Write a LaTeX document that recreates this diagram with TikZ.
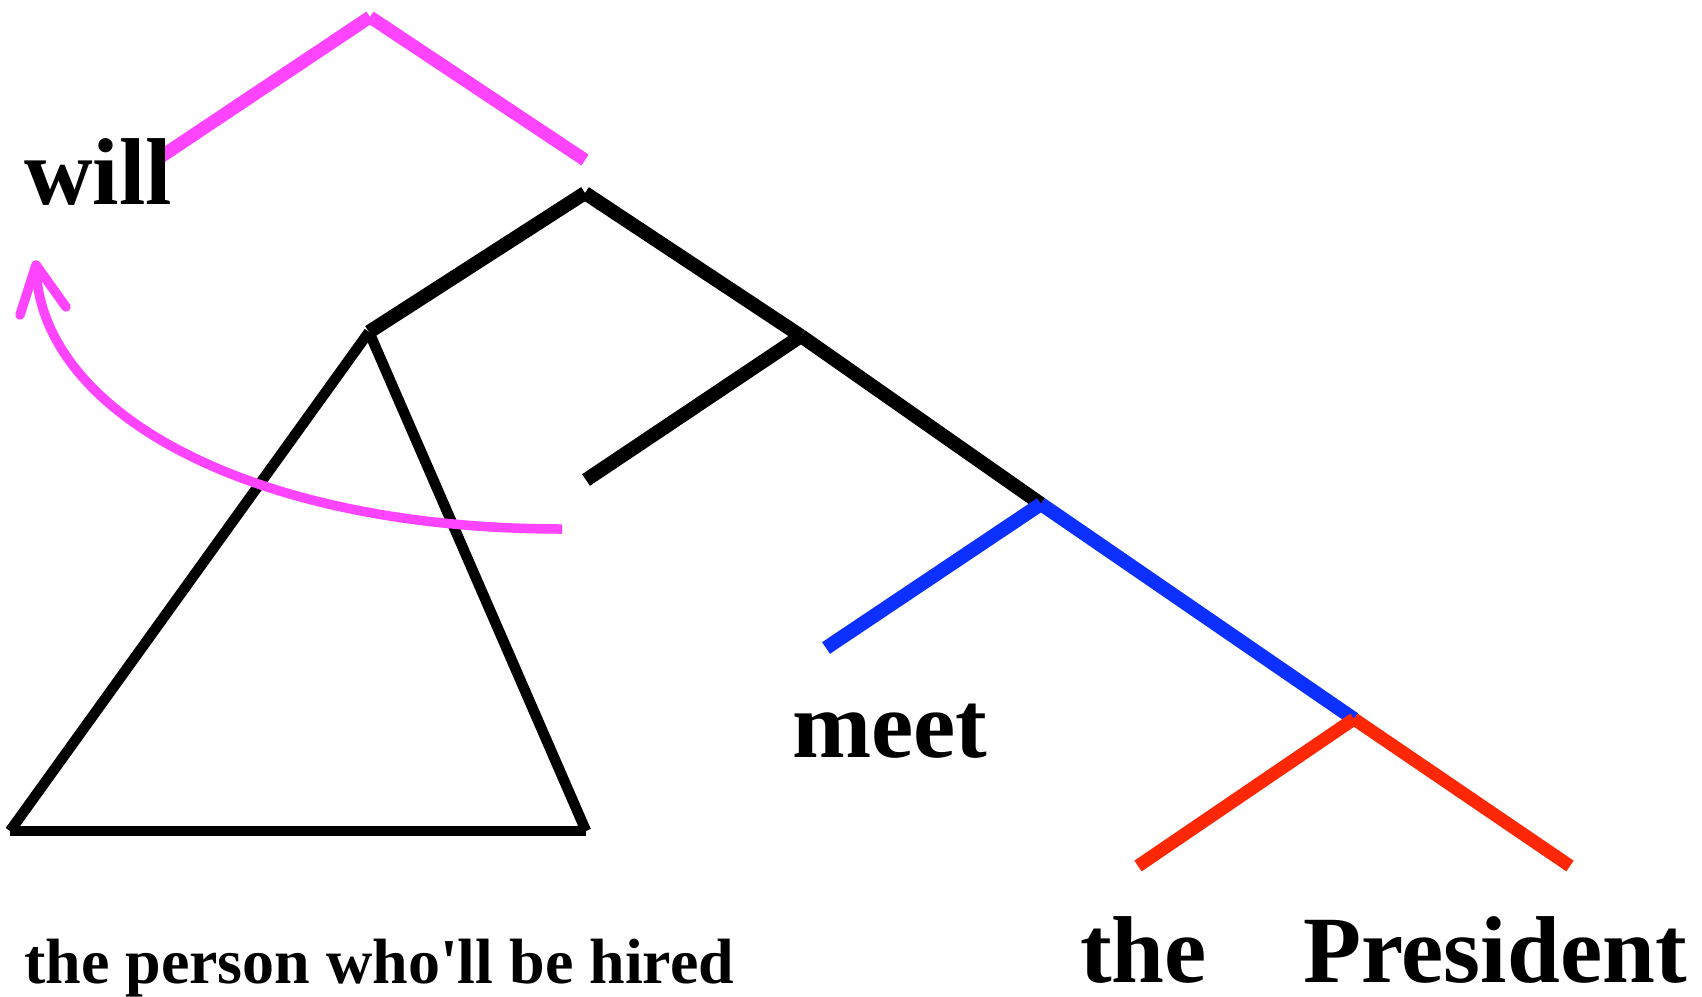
\documentclass[tikz,border=0pt]{standalone}
\usepackage{fontspec}
\newfontfamily\treefont{Liberation Serif}
\definecolor{mag}{RGB}{255,68,255}
\definecolor{treeblue}{RGB}{12,48,255}
\definecolor{treered}{RGB}{255,40,6}
\begin{document}
\begin{tikzpicture}[x=1pt,y=-1pt,
  bigword/.style={anchor=base west,inner sep=0pt,text depth=0pt,font=\treefont\fontsize{95}{95}\selectfont\bfseries},
  smallword/.style={anchor=base west,inner sep=0pt,text depth=0pt,font=\treefont\fontsize{64}{64}\selectfont\bfseries},
  magline/.style={draw=mag,line width=13pt,line cap=butt},
  blackline/.style={draw=black,line width=14pt,line cap=butt},
  triline/.style={draw=black,line width=10.5pt,line cap=butt},
  blueline/.style={draw=treeblue,line width=14pt,line cap=butt},
  redline/.style={draw=treered,line width=13pt,line cap=butt},
  movearrow/.style={draw=mag,line width=9.5pt,line cap=butt},
  arrowhead/.style={draw=mag,line width=9.5pt,line cap=round,line join=round}]
\useasboundingbox (0,0) rectangle (1702,996);
% tree points
\coordinate (mtop) at (370,17);
\coordinate (mleft) at (156,160);
\coordinate (mright) at (585,160);
\coordinate (btop) at (585,193);
\coordinate (tapex) at (369,332);
\coordinate (vbar) at (801,336);
\coordinate (vleft) at (586,480);
\coordinate (btop2) at (1041,504);
\coordinate (bleft) at (826,648);
\coordinate (rtop) at (1354,719);
\coordinate (rleft) at (1138,866);
\coordinate (rright) at (1570,866);
\coordinate (tbl) at (10,831);
\coordinate (tbr) at (586,831);
\coordinate (astart) at (562,529);
\coordinate (atip) at (36,265);
\coordinate (ah1) at (20,315);
\coordinate (ah2) at (66,307);
% magenta top branch
\draw[magline] (mtop) -- (mleft);
\draw[magline] (mtop) -- (mright);
% black spine
\draw[blackline] (btop) -- (tapex);
\draw[blackline] (btop) -- (vbar);
\draw[blackline] (vbar) -- (vleft);
\draw[blackline] (vbar) -- (btop2);
% triangle
\draw[triline] (tapex) -- (tbl);
\draw[triline] (tapex) -- (tbr);
\draw[triline] (tbl) -- (tbr);
% blue
\draw[blueline] (btop2) -- (bleft);
\draw[blueline] (btop2) -- (rtop);
% red
\draw[redline] (rtop) -- (rleft);
\draw[redline] (rtop) -- (rright);
% movement arrow
\draw[movearrow] (astart) .. controls (250,529) and (38,412) .. (atip);
\draw[arrowhead] (ah1) -- (atip) -- (ah2);
% words
\node[bigword] (will) at (24,204) {will};
\node[bigword] (meet) at (792,757) {meet};
\node[bigword] (the) at (1080,982) {the};
\node[bigword] (pres) at (1303,982) {President};
\node[smallword] (subj) at (24,983) {the person who'll be hired};
\end{tikzpicture}
\end{document}
